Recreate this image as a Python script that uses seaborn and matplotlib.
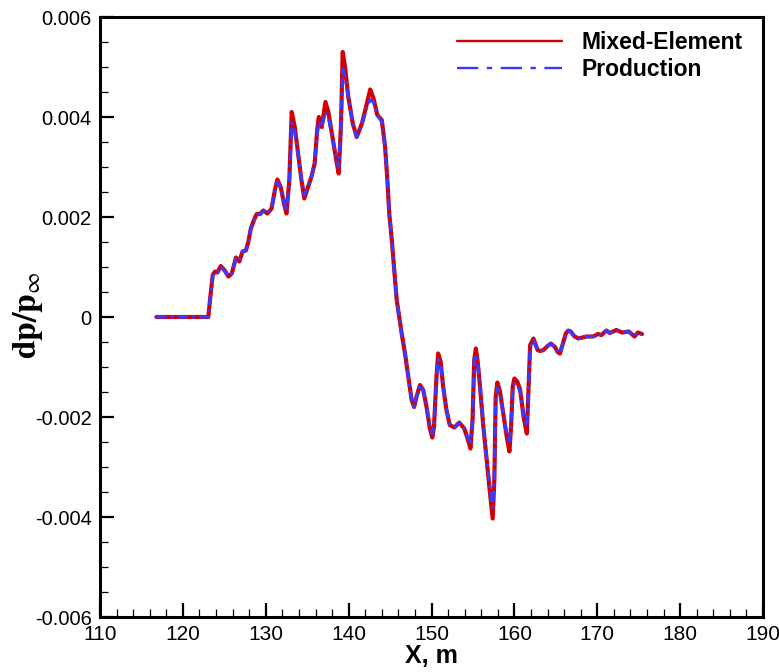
import numpy as np
import pandas as pd
import seaborn as sns
import matplotlib
matplotlib.use("Agg")
import matplotlib.pyplot as plt
from matplotlib.ticker import MultipleLocator

# Near-field pressure signature along the sensor line (X in metres)
x_m = [116.8, 123.07, 123.27, 123.6, 123.88, 124.16, 124.56, 124.96, 125.5, 125.9,
       126.4, 126.8, 127.2, 127.6, 127.9, 128.2, 128.5, 128.9, 129.3, 129.7,
       130.2, 130.7, 131.1, 131.4, 131.8, 132.2, 132.5, 132.84, 133.13, 133.5,
       133.9, 134.3, 134.65, 135.1, 135.5, 135.9, 136.2, 136.4, 136.75, 137.2,
       137.55, 138.1, 138.5, 138.8, 139.08, 139.28, 139.56, 139.96, 140.5, 140.97,
       141.6, 142.2, 142.6, 143.0, 143.46, 144.0, 144.4, 144.67, 144.9, 145.2,
       145.8, 146.4, 146.8, 147.2, 147.6, 147.9, 148.2, 148.6, 149.0, 149.4,
       149.8, 150.1, 150.3, 150.6, 150.8, 151.1, 151.4, 151.8, 152.2, 152.75,
       153.35, 153.95, 154.35, 154.7, 154.95, 155.15, 155.35, 155.55, 155.85, 156.25,
       156.66, 156.97, 157.38, 157.58, 157.74, 157.94, 158.26, 158.66, 159.07, 159.4,
       159.6, 159.8, 160.0, 160.35, 160.7, 161.1, 161.5, 161.7, 161.9, 162.3,
       162.8, 163.1, 163.5, 164.0, 164.4, 164.9, 165.2, 165.5, 165.9, 166.2,
       166.5, 166.8, 167.2, 167.7, 168.7, 169.5, 170.1, 170.5, 171.1, 171.5,
       172.3, 173.0, 173.8, 174.5, 174.9, 175.4]

mixed_element = [0.0, 0.0, 0.00034, 0.00084, 0.00091, 0.00089, 0.00102, 0.00095, 0.00081, 0.00087,
                 0.00119, 0.00111, 0.00131, 0.00133, 0.00151, 0.00177, 0.00191, 0.00206, 0.00206, 0.00213,
                 0.00207, 0.00217, 0.00254, 0.00275, 0.0026, 0.00227, 0.00207, 0.00274, 0.0041, 0.0038,
                 0.00327, 0.00274, 0.00237, 0.0026, 0.0028, 0.00307, 0.00374, 0.004, 0.0038, 0.0043,
                 0.0041, 0.00354, 0.00314, 0.00287, 0.00387, 0.0053, 0.005, 0.0044, 0.00387, 0.0036,
                 0.00387, 0.00427, 0.00455, 0.00437, 0.00404, 0.00394, 0.0034, 0.00274, 0.00207, 0.00155,
                 0.00034, -0.00033, -0.00073, -0.00119, -0.00166, -0.0018, -0.00159, -0.00136, -0.00146, -0.0018,
                 -0.00223, -0.00241, -0.00219, -0.00119, -0.00073, -0.00089, -0.00139, -0.00186, -0.00216, -0.00221,
                 -0.00211, -0.00223, -0.00243, -0.00263, -0.00206, -0.00086, -0.00063, -0.00086, -0.00139, -0.00219,
                 -0.00286, -0.00339, -0.00403, -0.00326, -0.00159, -0.00131, -0.00149, -0.00193, -0.00239, -0.00269,
                 -0.00219, -0.00139, -0.00123, -0.00129, -0.00146, -0.00199, -0.00233, -0.00146, -0.00056, -0.00043,
                 -0.00066, -0.00068, -0.00066, -0.00058, -0.00053, -0.0006, -0.0007, -0.00073, -0.0005, -0.00033,
                 -0.00027, -0.00029, -0.00038, -0.00043, -0.00039, -0.00039, -0.00034, -0.00036, -0.00027, -0.00032,
                 -0.00026, -0.00031, -0.00029, -0.00039, -0.00031, -0.00034]

production = [0.0, 0.0, 0.00034, 0.00082, 0.0009, 0.00089, 0.001, 0.00094, 0.00082, 0.00087,
              0.00117, 0.00113, 0.0013, 0.00133, 0.00151, 0.00177, 0.0019, 0.00205, 0.00205, 0.00212,
              0.00207, 0.00217, 0.00252, 0.0027, 0.00258, 0.0023, 0.00212, 0.0027, 0.00388, 0.0037,
              0.00325, 0.00274, 0.00244, 0.0026, 0.0028, 0.00307, 0.00365, 0.0039, 0.0038, 0.0041,
              0.004, 0.00354, 0.0032, 0.003, 0.0038, 0.005, 0.0048, 0.0044, 0.00387, 0.0036,
              0.00385, 0.0042, 0.00434, 0.0043, 0.00404, 0.0039, 0.0034, 0.00274, 0.00207, 0.00155,
              0.00034, -0.00033, -0.00073, -0.00119, -0.00166, -0.0018, -0.00159, -0.00136, -0.00146, -0.0018,
              -0.0022, -0.00233, -0.00215, -0.00125, -0.00085, -0.00095, -0.00139, -0.00186, -0.00216, -0.00221,
              -0.00211, -0.00223, -0.0024, -0.0025, -0.00206, -0.0009, -0.00075, -0.0009, -0.00139, -0.00219,
              -0.00286, -0.0033, -0.0038, -0.0032, -0.0017, -0.00142, -0.00155, -0.00193, -0.00235, -0.00253,
              -0.00215, -0.00145, -0.00133, -0.00135, -0.0015, -0.00195, -0.00219, -0.00146, -0.0006, -0.00046,
              -0.00066, -0.00068, -0.00066, -0.00058, -0.00053, -0.0006, -0.0007, -0.00073, -0.0005, -0.00033,
              -0.00027, -0.00029, -0.00038, -0.00043, -0.00039, -0.00039, -0.00034, -0.00036, -0.00027, -0.00032,
              -0.00026, -0.00031, -0.00029, -0.00039, -0.00031, -0.00034]

series_names = ["Mixed-Element", "Production"]
xtick_values = [110, 120, 130, 140, 150, 160, 170, 180, 190]
ytick_values = [-0.006, -0.004, -0.002, 0.0, 0.002, 0.004, 0.006]
ytick_labels = ["-0.006", "-0.004", "-0.002", "0", "0.002", "0.004", "0.006"]

sns.set_style("white")
plt.rcParams["font.family"] = ["Liberation Sans", "DejaVu Sans"]
plt.rcParams["mathtext.fontset"] = "stix"
plt.rcParams["text.color"] = "black"
plt.rcParams["axes.labelcolor"] = "black"
plt.rcParams["xtick.color"] = "black"
plt.rcParams["ytick.color"] = "black"

fig = plt.figure(figsize=(7.79, 6.72), dpi=100)
ax = fig.add_axes([0.1284, 0.0818, 0.8511, 0.8929])

df = pd.DataFrame({"x": x_m, series_names[0]: mixed_element, series_names[1]: production})

sns.lineplot(data=df, x="x", y=series_names[0], ax=ax, color="#d40000",
             linewidth=3.0, label=series_names[0], sort=False,
             solid_joinstyle="round", solid_capstyle="round")
sns.lineplot(data=df, x="x", y=series_names[1], ax=ax, color="#3a3aff",
             linewidth=2.3, label=series_names[1], sort=False,
             linestyle=(0, (3.2, 1.3, 0.9, 1.3)))

ax.set_xlim(110, 190)
ax.set_ylim(-0.006, 0.006)
ax.set_xticks(xtick_values)
ax.set_xticklabels([str(v) for v in xtick_values])
ax.set_yticks(ytick_values)
ax.set_yticklabels(ytick_labels)
ax.xaxis.set_minor_locator(MultipleLocator(2))
ax.yaxis.set_minor_locator(MultipleLocator(0.0005))

ax.tick_params(axis="both", which="major", direction="in", length=10, width=1.6,
               color="black", labelcolor="black", pad=6,
               bottom=True, left=True, top=False, right=False)
ax.tick_params(axis="both", which="minor", direction="in", length=5.5, width=0.9,
               color="black", bottom=True, left=True, top=False, right=False)
for lab in ax.get_yticklabels():
    lab.set_fontsize(14.5)
for lab in ax.get_xticklabels():
    lab.set_fontsize(15)

for side in ["left", "right", "top", "bottom"]:
    ax.spines[side].set_visible(True)
    ax.spines[side].set_linewidth(2.2)
    ax.spines[side].set_color("black")

ax.set_xlabel("X, m", fontsize=18, fontweight="bold", color="black", labelpad=0)
ax.set_ylabel(r"$\mathbf{dp/p}_{\infty}$", fontsize=24, color="black")
ax.yaxis.set_label_coords(-0.083, 0.503)

leg = ax.legend(loc="upper right", frameon=False,
                bbox_to_anchor=(0.9827, 0.9913), borderaxespad=0,
                handlelength=4.6, handletextpad=0.83, labelspacing=0.15,
                prop={"weight": "bold", "size": 16.5})
for txt in leg.get_texts():
    txt.set_color("black")
leg_lines = leg.get_lines()
leg_lines[0].set_linewidth(1.7)
leg_lines[1].set_linewidth(1.7)
leg_lines[1].set_linestyle((0, (9, 3.6, 2.3, 3.6)))

fig.savefig("out.png", dpi=100)
